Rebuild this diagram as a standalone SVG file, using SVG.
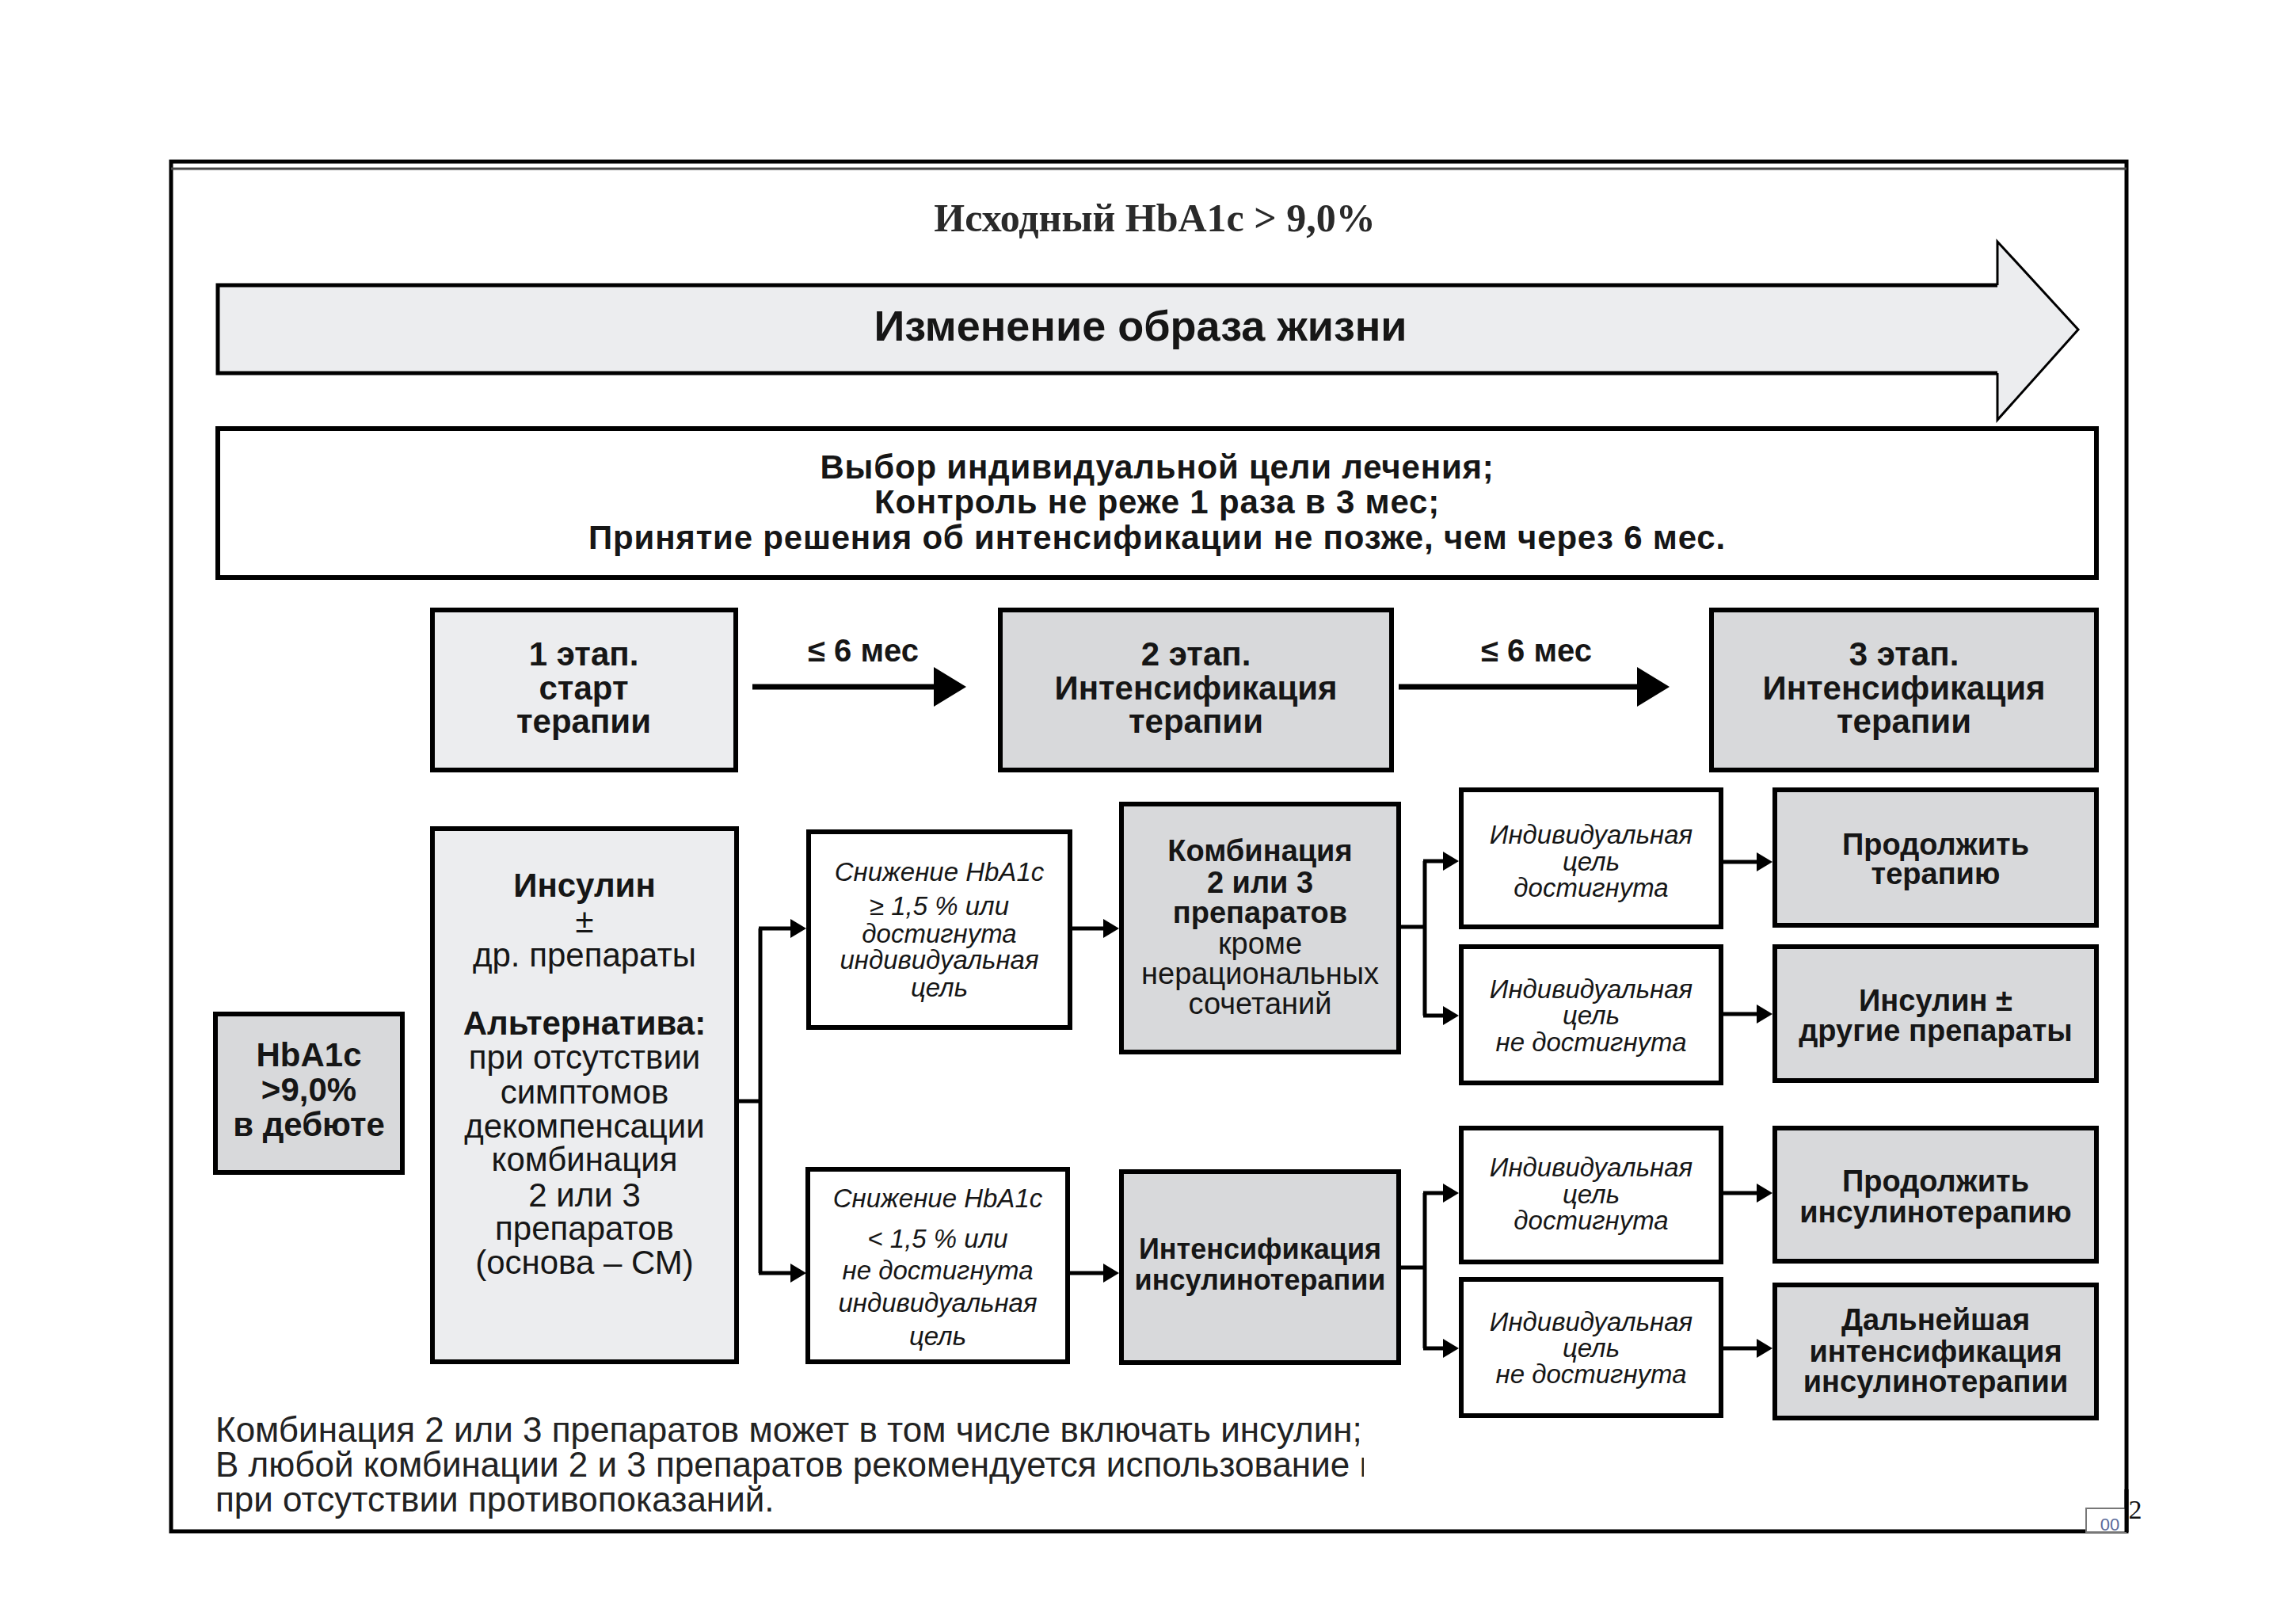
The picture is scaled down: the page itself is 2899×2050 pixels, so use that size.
<svg xmlns="http://www.w3.org/2000/svg" width="2899" height="2050" viewBox="0 0 2899 2050">
<style>
text{font-family:"Liberation Sans",Arial,sans-serif;fill:#161616;text-anchor:middle}
.b{font-weight:bold}
.i{font-style:italic}
.box{stroke:#000;stroke-width:6}
.light{fill:#ecedef}
.dark{fill:#d8d9db}
.white{fill:#fff}
.ln{fill:none;stroke:#000;stroke-width:5}
.thick{fill:none;stroke:#000;stroke-width:7}
.s42{font-size:42px}
.s38{font-size:38px}
.s33{font-size:33px}
.goal{font-size:42px;letter-spacing:0.8px}
</style>
<defs>
<marker id="ah" markerUnits="userSpaceOnUse" viewBox="0 0 20 24" refX="12" refY="12" markerWidth="20" markerHeight="24" orient="auto">
<path d="M0,0 L20,12 L0,24 z" fill="#000"/>
</marker>
<marker id="big" markerUnits="userSpaceOnUse" viewBox="0 0 41 50" refX="33" refY="25" markerWidth="41" markerHeight="50" orient="auto">
<path d="M0,0 L41,25 L0,50 z" fill="#000"/>
</marker>
<clipPath id="fnclip"><rect x="200" y="1760" width="1522" height="180"/></clipPath>
</defs>
<rect width="2899" height="2050" fill="#fff"/>

<g id="frame">
<rect x="216" y="204" width="2469" height="1729" fill="none" stroke="#000" stroke-width="5"/>
<line x1="216" y1="213" x2="2685" y2="213" stroke="#444" stroke-width="3"/>
</g>

<g id="title">
<text x="1458" y="292" style="font-family:'Liberation Serif','Times New Roman',serif;font-size:50px;font-weight:bold;fill:#2a2a2a">Исходный HbA1c &gt; 9,0%</text>
</g>

<g id="lifestyle">
<polygon points="275,360 2522,360 2522,305 2624,416 2522,530 2522,471 275,471" fill="#ecedef"/>
<polyline points="2522,360 275,360 275,471 2522,471" fill="none" stroke="#000" stroke-width="5"/>
<polyline points="2522,360 2522,305 2624,416 2522,530 2522,471" fill="none" stroke="#000" stroke-width="3"/>
<text class="b" x="1440" y="430" style="font-size:54px">Изменение образа жизни</text>
</g>

<g id="goals">
<rect class="box white" x="275" y="541" width="2372" height="188"/>
<text class="b goal" x="1461" y="604">Выбор индивидуальной цели лечения;</text>
<text class="b goal" x="1461" y="648">Контроль не реже 1 раза в 3 мес;</text>
<text class="b goal" x="1461" y="693">Принятие решения об интенсификации не позже, чем через 6 мес.</text>
</g>

<g id="stage1">
<rect class="box light" x="546" y="770" width="383" height="202"/>
<text class="b s42" x="737" y="840">1 этап.</text>
<text class="b s42" x="737" y="883">старт</text>
<text class="b s42" x="737" y="925">терапии</text>
</g>
<g id="stage2">
<rect class="box dark" x="1263" y="770" width="494" height="202"/>
<text class="b s42" x="1510" y="840">2 этап.</text>
<text class="b s42" x="1510" y="883">Интенсификация</text>
<text class="b s42" x="1510" y="925">терапии</text>
</g>
<g id="stage3">
<rect class="box dark" x="2161" y="770" width="486" height="202"/>
<text class="b s42" x="2404" y="840">3 этап.</text>
<text class="b s42" x="2404" y="883">Интенсификация</text>
<text class="b s42" x="2404" y="925">терапии</text>
</g>

<g id="hba1c">
<rect class="box dark" x="272" y="1280" width="236" height="200"/>
<text class="b s42" x="390" y="1346">HbA1c</text>
<text class="b s42" x="390" y="1390">&gt;9,0%</text>
<text class="b s42" x="390" y="1434">в дебюте</text>
</g>

<g id="insulin">
<rect class="box light" x="546" y="1046" width="384" height="673"/>
<text class="b s42" x="738" y="1132">Инсулин</text>
<text class="s42" x="738" y="1177">±</text>
<text class="s42" x="738" y="1220">др. препараты</text>
<text class="b s42" x="738" y="1306">Альтернатива:</text>
<text class="s42" x="738" y="1349">при отсутствии</text>
<text class="s42" x="738" y="1393">симптомов</text>
<text class="s42" x="738" y="1436">декомпенсации</text>
<text class="s42" x="738" y="1478">комбинация</text>
<text class="s42" x="738" y="1523">2 или 3</text>
<text class="s42" x="738" y="1565">препаратов</text>
<text class="s42" x="738" y="1608">(основа – СМ)</text>
</g>

<g id="reduce-hi">
<rect class="box white" x="1021" y="1050" width="330" height="247"/>
<text class="i s33" x="1186" y="1112">Снижение HbA1c</text>
<text class="i s33" x="1186" y="1155">≥ 1,5 % или</text>
<text class="i s33" x="1186" y="1190">достигнута</text>
<text class="i s33" x="1186" y="1223">индивидуальная</text>
<text class="i s33" x="1186" y="1258">цель</text>
</g>
<g id="reduce-lo">
<rect class="box white" x="1020" y="1476" width="328" height="243"/>
<text class="i s33" x="1184" y="1524">Снижение HbA1c</text>
<text class="i s33" x="1184" y="1575">&lt; 1,5 % или</text>
<text class="i s33" x="1184" y="1615">не достигнута</text>
<text class="i s33" x="1184" y="1656">индивидуальная</text>
<text class="i s33" x="1184" y="1698">цель</text>
</g>

<g id="combo">
<rect class="box dark" x="1416" y="1015" width="350" height="313"/>
<text class="b s38" x="1591" y="1087">Комбинация</text>
<text class="b s38" x="1591" y="1127">2 или 3</text>
<text class="b s38" x="1591" y="1165">препаратов</text>
<text class="s38" x="1591" y="1204">кроме</text>
<text class="s38" x="1591" y="1242">нерациональных</text>
<text class="s38" x="1591" y="1280">сочетаний</text>
</g>
<g id="intens">
<rect class="box dark" x="1416" y="1479" width="350" height="241"/>
<text class="b" x="1591" y="1589" style="font-size:36px">Интенсификация</text>
<text class="b" x="1591" y="1628" style="font-size:36px">инсулинотерапии</text>
</g>

<g id="goal1">
<rect class="box white" x="1845" y="997" width="328" height="173"/>
<text class="i s33" x="2009" y="1065">Индивидуальная</text>
<text class="i s33" x="2009" y="1099">цель</text>
<text class="i s33" x="2009" y="1132">достигнута</text>
</g>
<g id="goal2">
<rect class="box white" x="1845" y="1195" width="328" height="172"/>
<text class="i s33" x="2009" y="1260">Индивидуальная</text>
<text class="i s33" x="2009" y="1293">цель</text>
<text class="i s33" x="2009" y="1327">не достигнута</text>
</g>
<g id="goal3">
<rect class="box white" x="1845" y="1424" width="328" height="169"/>
<text class="i s33" x="2009" y="1485">Индивидуальная</text>
<text class="i s33" x="2009" y="1519">цель</text>
<text class="i s33" x="2009" y="1552">достигнута</text>
</g>
<g id="goal4">
<rect class="box white" x="1845" y="1615" width="328" height="172"/>
<text class="i s33" x="2009" y="1680">Индивидуальная</text>
<text class="i s33" x="2009" y="1713">цель</text>
<text class="i s33" x="2009" y="1746">не достигнута</text>
</g>

<g id="res1">
<rect class="box dark" x="2241" y="997" width="406" height="171"/>
<text class="b s38" x="2444" y="1079">Продолжить</text>
<text class="b s38" x="2444" y="1116">терапию</text>
</g>
<g id="res2">
<rect class="box dark" x="2241" y="1195" width="406" height="169"/>
<text class="b s38" x="2444" y="1276">Инсулин ±</text>
<text class="b s38" x="2444" y="1314">другие препараты</text>
</g>
<g id="res3">
<rect class="box dark" x="2241" y="1424" width="406" height="168"/>
<text class="b s38" x="2444" y="1504">Продолжить</text>
<text class="b s38" x="2444" y="1543">инсулинотерапию</text>
</g>
<g id="res4">
<rect class="box dark" x="2241" y="1622" width="406" height="168"/>
<text class="b s38" x="2444" y="1679">Дальнейшая</text>
<text class="b s38" x="2444" y="1719">интенсификация</text>
<text class="b s38" x="2444" y="1757">инсулинотерапии</text>
</g>

<g id="connectors">
<path class="thick" d="M950,867 H1212" marker-end="url(#big)"/>
<text class="b" x="1090" y="835" style="font-size:40px">≤ 6 мес</text>
<path class="thick" d="M1766,867 H2100" marker-end="url(#big)"/>
<text class="b" x="1940" y="835" style="font-size:40px">≤ 6 мес</text>

<path class="ln" d="M930,1390 H960 M960,1172 V1607"/>
<path class="ln" d="M958,1172 H1010" marker-end="url(#ah)"/>
<path class="ln" d="M958,1607 H1010" marker-end="url(#ah)"/>

<path class="ln" d="M1351,1172 H1405" marker-end="url(#ah)"/>
<path class="ln" d="M1348,1607 H1405" marker-end="url(#ah)"/>

<path class="ln" d="M1766,1170 H1799 M1799,1087 V1282"/>
<path class="ln" d="M1797,1087 H1834" marker-end="url(#ah)"/>
<path class="ln" d="M1797,1282 H1834" marker-end="url(#ah)"/>

<path class="ln" d="M1766,1600 H1799 M1799,1506 V1702"/>
<path class="ln" d="M1797,1506 H1834" marker-end="url(#ah)"/>
<path class="ln" d="M1797,1702 H1834" marker-end="url(#ah)"/>

<path class="ln" d="M2176,1088 H2230" marker-end="url(#ah)"/>
<path class="ln" d="M2176,1280 H2230" marker-end="url(#ah)"/>
<path class="ln" d="M2176,1506 H2230" marker-end="url(#ah)"/>
<path class="ln" d="M2176,1702 H2230" marker-end="url(#ah)"/>
</g>

<g id="footnote" clip-path="url(#fnclip)">
<text x="272" y="1820" style="font-size:44px;text-anchor:start;fill:#222">Комбинация 2 или 3 препаратов может в том числе включать инсулин;</text>
<text x="272" y="1864" style="font-size:44px;text-anchor:start;fill:#222">В любой комбинации 2 и 3 препаратов рекомендуется использование метформина</text>
<text x="272" y="1908" style="font-size:44px;text-anchor:start;fill:#222">при отсутствии противопоказаний.</text>
</g>

<g id="pagemark">
<rect x="2634" y="1904" width="50" height="30" fill="#fff" stroke="#777" stroke-width="2"/>
<text x="2664" y="1932" style="font-size:22px;fill:#5a6a9a">00</text>
<text x="2696" y="1917" style="font-family:'Liberation Serif',serif;font-size:34px;fill:#111">2</text>
<line x1="2685" y1="1880" x2="2685" y2="1934" stroke="#000" stroke-width="5"/>
</g>
</svg>
